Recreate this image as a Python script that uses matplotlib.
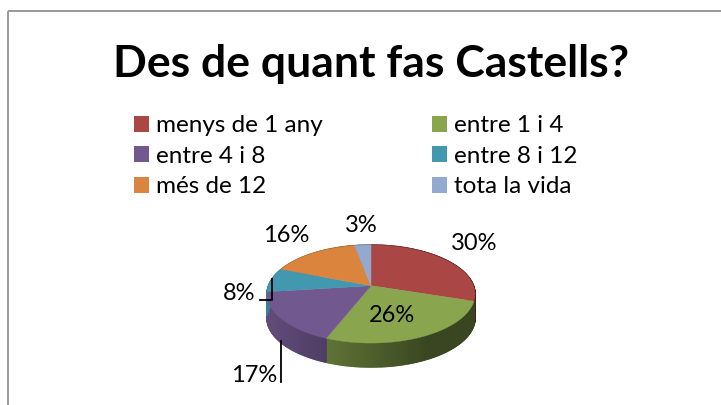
#!/usr/bin/env python3
"""Pie 3D en perspectiva: des de quant fas Castells."""

import numpy as np
import matplotlib
matplotlib.use("Agg")
import matplotlib.pyplot as plt
from matplotlib.patches import Patch

plt.rcParams["font.family"] = ["Lato", "DejaVu Sans"]

TITLE = "Des de quant fas Castells?"
categories = ["menys de 1 any", "entre 1 i 4", "entre 4 i 8", "entre 8 i 12", "més de 12", "tota la vida"]
values = [30, 26, 17, 8, 16, 3]
colors = ["#AA4643", "#89A54E", "#71588F", "#4198AF", "#DB843D", "#93A9CF"]

# geometria del pastis, en pixels
CX, CY = 371.0, 285.7
RX, RY = 102.5, 47.6
K = 0.17
DEPTH = 24.0


def project(theta):
    """Angle (horari des de dalt) -> punt de la vora amb perspectiva."""
    x, y = np.sin(theta), np.cos(theta)
    d = 1 + K * y
    return CX + RX * x / d, CY - RY * y / d


def shade(hex_color, f):
    return tuple(c * f for c in matplotlib.colors.to_rgb(hex_color))


fig = plt.figure(figsize=(7.21, 4.05), dpi=100)
ax = fig.add_axes([0, 0, 1, 1])
ax.set_xlim(0, 721)
ax.set_ylim(405, 0)
ax.axis("off")

# marc gris (continua fora de la imatge)
ax.plot([8, 8], [420, 11], color="#9a9a9a", lw=1.4, solid_capstyle="butt")
ax.plot([8, 730], [11, 11], color="#9a9a9a", lw=1.4, solid_capstyle="butt")

ax.text(371, 64, TITLE, fontsize=32, fontweight="bold", ha="center", va="center", color="black")

order = [0, 2, 4, 1, 3, 5]
handles = [Patch(facecolor=colors[i], label=categories[i]) for i in order]
ax.legend(
    handles=handles, ncol=2, frameon=False, fontsize=17.5,
    loc="upper left", bbox_to_anchor=(0.186, 0.715),
    handlelength=0.62, handleheight=0.62, handletextpad=0.29,
    labelspacing=0.39, columnspacing=4.5, borderpad=0, borderaxespad=0,
)

edges = np.cumsum([0] + values) / sum(values) * 2 * np.pi

# costat del pastis amb degradat
for i, color in enumerate(colors):
    thetas = np.linspace(edges[i], edges[i + 1], max(2, values[i] * 6))
    for a, b in zip(thetas[:-1], thetas[1:]):
        xa, ya = project(a)
        xb, yb = project(b)
        f = np.clip(0.85 - (0.5 * (xa + xb) - 270) * 0.0027, 0.42, 0.85)
        c = shade(color, f)
        ax.fill([xa, xb, xb, xa], [ya, yb, yb + DEPTH, ya + DEPTH], facecolor=c, edgecolor=c, lw=1.0, zorder=2)

# cara superior
for i, color in enumerate(colors):
    thetas = np.linspace(edges[i], edges[i + 1], max(2, values[i] * 6))
    xs, ys = project(thetas)
    ax.fill(np.r_[CX, xs], np.r_[CY, ys], color=color, lw=0.3, zorder=3)

# linies guia
ax.plot([260, 272, 272], [300, 300, 279], color="black", lw=1.3, zorder=4)
ax.plot([281, 281], [341, 382], color="black", lw=1.3, zorder=4)

label_pos = [(474, 244), (392, 316), (254, 376), (239, 294), (286, 236), (361, 226)]
for v, (lx, ly) in zip(values, label_pos):
    ax.text(lx, ly, f"{v}%", fontsize=17, ha="center", va="center", color="black", zorder=5)

fig.savefig("out.png", dpi=100)
